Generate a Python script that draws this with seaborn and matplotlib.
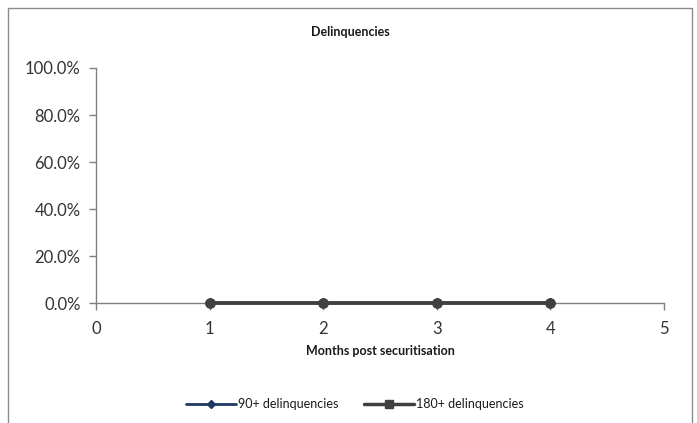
import matplotlib
matplotlib.use("Agg")
import matplotlib.pyplot as plt
import seaborn as sns
import pandas as pd
from matplotlib.lines import Line2D
from matplotlib.ticker import FuncFormatter

months = [1, 2, 3, 4]
d90 = [0.0, 0.0, 0.0, 0.0]
d180 = [0.0, 0.0, 0.0, 0.0]
series_names = ["90+ delinquencies", "180+ delinquencies"]
yticks = [0.0, 0.2, 0.4, 0.6, 0.8, 1.0]
xticks = [0, 1, 2, 3, 4, 5]

sns.set_style("white")
plt.rcParams['font.family'] = ['Lato', 'DejaVu Sans']

fig = plt.figure(figsize=(6.97, 4.23), dpi=100)
W, H = 697, 423
ax = fig.add_axes([96 / W, 1 - 303 / H, (664 - 96) / W, (303 - 68) / H])

df = pd.DataFrame({"month": months, "d90": d90, "d180": d180})
blue = "#1F3864"
gray = "#404040"
sns.lineplot(data=df, x="month", y="d90", ax=ax, color=blue, marker="D",
             markersize=5, linewidth=2, markeredgecolor=blue, zorder=3)
sns.lineplot(data=df, x="month", y="d180", ax=ax, color=gray, marker="o",
             markersize=7, linewidth=2.8, markeredgecolor=gray, zorder=4, clip_on=False)

ax.set_xlim(0, 5)
ax.set_ylim(0, 1.0)
ax.set_xticks(xticks)
ax.set_yticks(yticks)
ax.yaxis.set_major_formatter(FuncFormatter(lambda v, p: f"{v*100:.1f}%"))
for s in ["top", "right"]:
    ax.spines[s].set_visible(False)
for s in ["left", "bottom"]:
    ax.spines[s].set_color("#808080")
    ax.spines[s].set_linewidth(1)
ax.tick_params(axis="both", direction="out", length=5, width=1, color="#808080",
               labelsize=12, labelcolor="#333333", bottom=True, left=True)
ax.tick_params(axis="y", pad=6)
ax.tick_params(axis="x", pad=8)
ax.set_xlabel("Months post securitisation", fontsize=9, fontweight="bold",
              color="#1a1a1a", labelpad=6)
ax.set_ylabel("")
fig.text(350 / W, 1 - 32 / H, "Delinquencies", fontsize=9, fontweight="bold",
         color="#1a1a1a", ha="center", va="center")

handles = [Line2D([], [], color=blue, marker="D", markersize=4, linewidth=2),
           Line2D([], [], color=gray, marker="s", markersize=6, linewidth=2.5)]
fig.legend(handles, series_names, loc="center", bbox_to_anchor=(355 / W, 1 - 404 / H),
           ncol=2, frameon=False, fontsize=9, handlelength=4, columnspacing=2,
           handletextpad=0.2, labelcolor="#1a1a1a")

# outer chart frame
frame_color = "#8c8c8c"
fig.add_artist(Line2D([8 / W, 8 / W], [0, 1 - 8 / H], color=frame_color, linewidth=1,
                      transform=fig.transFigure))
fig.add_artist(Line2D([8 / W, 692 / W], [1 - 8 / H, 1 - 8 / H], color=frame_color,
                      linewidth=1, transform=fig.transFigure))
fig.add_artist(Line2D([692 / W, 692 / W], [0, 1 - 8 / H], color=frame_color, linewidth=1,
                      transform=fig.transFigure))

fig.savefig("out.png", dpi=100)
